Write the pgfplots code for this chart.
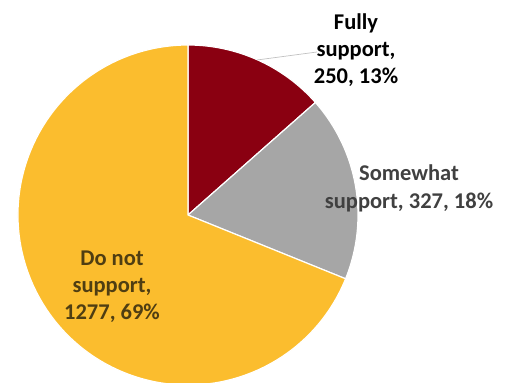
\documentclass[border=0pt]{standalone}
\usepackage{pgfplots}
\pgfplotsset{compat=1.18}
\usepackage{pgfplotstable}
\usepackage{fontspec}
\setmainfont{Carlito}
\definecolor{fullred}{HTML}{8A0011}
\definecolor{somegrey}{HTML}{A6A6A6}
\definecolor{notgold}{HTML}{FBBD2E}
\definecolor{goldtext}{HTML}{4F3E12}
\definecolor{greytext}{HTML}{404040}

\pgfplotstableread{
label value
Fully 250
Somewhat 327
Donot 1277
}\piedata

\begin{document}
\begin{tikzpicture}
\useasboundingbox (0,0) rectangle (511bp,383bp);
\pgfplotstablegetelem{0}{value}\of\piedata \global\let\va\pgfplotsretval
\pgfplotstablegetelem{1}{value}\of\piedata \global\let\vb\pgfplotsretval
\pgfplotstablegetelem{2}{value}\of\piedata \global\let\vc\pgfplotsretval
\pgfmathsetmacro{\tot}{\va+\vb+\vc}
\pgfmathsetmacro{\aA}{90-360*(\va/\tot)}
\pgfmathsetmacro{\aB}{\aA-360*(\vb/\tot)}
\pgfmathsetmacro{\aC}{\aB-360*(\vc/\tot)}
\begin{axis}[hide axis, scale only axis, width=511bp, height=383bp,
  xmin=0, xmax=511, ymin=0, ymax=383, clip=true,
  anchor=south west, at={(0,0)}]
\filldraw[fill=fullred, draw=white, line width=1.2bp, line join=round]
  (188,168) -- ++(90:170bp) arc[start angle=90, end angle=\aA, radius=170bp] -- cycle;
\filldraw[fill=somegrey, draw=white, line width=1.2bp, line join=round]
  (188,168) -- ++(\aA:170bp) arc[start angle=\aA, end angle=\aB, radius=170bp] -- cycle;
\filldraw[fill=notgold, draw=white, line width=1.2bp, line join=round]
  (188,168) -- ++(\aB:170bp) arc[start angle=\aB, end angle=\aC, radius=170bp] -- cycle;
\draw[somegrey!70, line width=0.7bp] (257,323) -- (317,331);
\node[align=center, font=\fontsize{22.5bp}{27bp}\selectfont\bfseries, text=black, inner sep=0pt]
  at (356,333) {Fully\\support,\\250, 13\%};
\node[align=center, font=\fontsize{22.5bp}{28bp}\selectfont\bfseries, text=greytext, inner sep=0pt]
  at (409,195) {Somewhat\\support, 327, 18\%};
\node[align=center, font=\fontsize{22.5bp}{27bp}\selectfont\bfseries, text=goldtext, inner sep=0pt]
  at (112,96) {Do not\\support,\\1277, 69\%};
\end{axis}
\end{tikzpicture}
\end{document}
